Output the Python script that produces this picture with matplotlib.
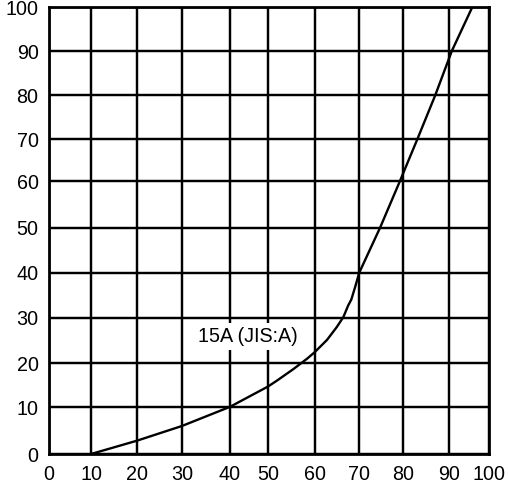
import matplotlib
matplotlib.use("Agg")
import matplotlib.pyplot as plt
import numpy as np

# 读图得到的数据
x_ticks = [0, 10, 20, 30, 40, 50, 60, 70, 80, 90, 100]
y_ticks = [0, 10, 20, 30, 40, 50, 60, 70, 80, 90, 100]

# grid is hand drawn, spacing is uneven (pixel positions of gridlines)
x_grid_px = [49, 91, 137, 182, 230, 268, 314.7, 358.8, 403, 449, 489]
y_grid_px = [453.7, 407, 362.9, 317.3, 272.5, 227.7, 181, 139.3, 95.3, 51, 7.3]

curve_x = [10, 20, 30, 40, 50, 52.0, 55.5, 58.4, 60, 62.8, 65.0, 66.5, 67.6,
           68.3, 69.2, 70.1, 74.8, 79.3, 83.1, 87.0, 90.7, 95.8]
curve_y = [0, 2.85, 6.0, 10.1, 14.7, 16.1, 18.7, 21.0, 22.4, 25.1, 27.9, 30.1, 32.7,
           34.0, 36.9, 40, 50, 60, 70, 80, 90, 100]

label = "15A (JIS:A)"

plt.rcParams['font.family'] = ['Liberation Sans', 'DejaVu Sans']


def fx(v):
    return np.interp(v, x_ticks, x_grid_px)


def fx_inv(p):
    return np.interp(p, x_grid_px, x_ticks)


neg_y = [-p for p in y_grid_px]


def fy(v):
    return np.interp(v, y_ticks, neg_y)


def fy_inv(p):
    return np.interp(p, neg_y, y_ticks)


fig = plt.figure(figsize=(5.08, 4.84), dpi=100)
ax = fig.add_axes([49 / 508, 1 - 454 / 484, 440 / 508, (454 - 7.3) / 484])

ax.set_xscale('function', functions=(fx, fx_inv))
ax.set_yscale('function', functions=(fy, fy_inv))
ax.set_xlim(0, 100)
ax.set_ylim(0, 100)
ax.set_xticks(x_ticks)
ax.set_yticks(y_ticks)
ax.set_xticklabels([str(t) for t in x_ticks])
ax.set_yticklabels([str(t) for t in y_ticks])
ax.minorticks_off()

ax.grid(True, color="black", linewidth=1.75)
ax.set_axisbelow(True)
for s in ax.spines.values():
    s.set_linewidth(2)
ax.tick_params(length=0, labelsize=14.2, colors="black")
ax.tick_params(axis="x", pad=8)
ax.tick_params(axis="y", pad=7.5)

ax.plot(curve_x, curve_y, color="black", linewidth=1.7, solid_joinstyle="round")

ax.text(44.7, 25.9, label, fontsize=14.2, ha="center", va="center",
        bbox=dict(boxstyle="square,pad=0.2", facecolor="white", edgecolor="none"))

fig.savefig("out.png", dpi=100)
